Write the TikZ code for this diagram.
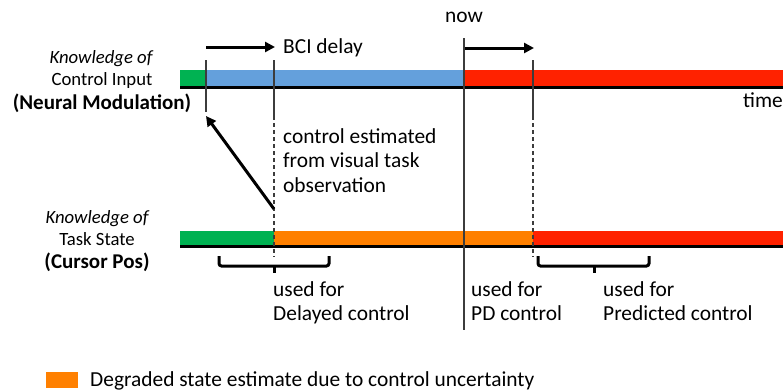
\documentclass[tikz,border=0pt]{standalone}
\usepackage{fontspec}
\setmainfont{Carlito}
\usepackage{tikz}
\usetikzlibrary{arrows.meta}
\usetikzlibrary{positioning}
\definecolor{knowgreen}{RGB}{0,178,82}
\definecolor{ctrlblue}{RGB}{100,160,220}
\definecolor{predred}{RGB}{255,34,0}
\definecolor{degorange}{RGB}{255,128,0}
\definecolor{tickgray}{RGB}{60,60,60}

\begin{document}
\begin{tikzpicture}[x=1pt,y=-1pt,
    txt/.style={font=\fontsize{21.4}{24.6}\selectfont,inner sep=0pt,align=left},
    side/.style={font=\fontsize{18.7}{22}\selectfont,inner sep=0pt,anchor=base},
    sidebold/.style={font=\fontsize{21}{22}\selectfont\bfseries,inner sep=0pt,anchor=base},
    tline/.style={tickgray,line width=1.2pt},
    arr/.style={-{Triangle[length=10pt,width=10pt]},line width=3pt},
    bracket/.style={line width=3pt,rounded corners=2.5pt}]
  \useasboundingbox (0,0) rectangle (783,391);
  % control input bar
  \fill[knowgreen] (180,70) rectangle (206,86);
  \fill[ctrlblue] (206,70) rectangle (464,86);
  \fill[predred] (464,70) rectangle (783,86);
  \draw[line width=3.2pt] (180,87.5) -- (783,87.5);
  % task state bar
  \fill[knowgreen] (180,231) rectangle (274,245);
  \fill[degorange] (274,231) rectangle (533,245);
  \fill[predred] (533,231) rectangle (783,245);
  \draw[line width=3.2pt] (180,246.5) -- (783,246.5);
  % markers
  \coordinate (obsT) at (206,60);
  \coordinate (obsB) at (206,112);
  \coordinate (bciT) at (274,60);
  \coordinate (bciM) at (274,116);
  \coordinate (bciB) at (274,257);
  \coordinate (nowT) at (464,38);
  \coordinate (nowB) at (464,330);
  \coordinate (preT) at (533,60);
  \coordinate (preM) at (533,116);
  \coordinate (preB) at (533,257);
  \draw[tline] (obsT) -- (obsB);
  \draw[tline] (bciT) -- (bciM);
  \draw[tline,dashed,dash pattern=on 4pt off 3pt] (bciM) -- (bciB);
  \draw[tline] (nowT) -- (nowB);
  \draw[tline] (preT) -- (preM);
  \draw[tline,dashed,dash pattern=on 4pt off 3pt] (preM) -- (preB);
  % arrows
  \coordinate (bciS) at (206,47);
  \coordinate (bciE) at (275,47);
  \coordinate (predS) at (465,48);
  \coordinate (predE) at (534,48);
  \coordinate (estS) at (274,209);
  \coordinate (estE) at (206,116);
  \draw[arr] (bciS) -- (bciE);
  \draw[arr] (predS) -- (predE);
  \draw[arr] (estS) -- (estE);
  % brackets
  \draw[bracket] (219,256) |- (329,266) -- (329,256);
  \draw[bracket] (274,266) -- (274,273);
  \draw[bracket] (538,256) |- (649,266) -- (649,256);
  \draw[bracket] (594,266) -- (594,273);
  % labels
  \node[txt,anchor=base west] (bci) at (283,53) {BCI delay};
  \node[txt,anchor=base] (now) at (464,22) {now};
  \node[txt,anchor=base east] (time) at (783,107) {time};
  \node[txt,anchor=north west] (est) at (283,128)
    {control estimated\\from visual task\\observation};
  \node[txt,anchor=north west] (dly) at (273,281) {used for\\Delayed control};
  \node[txt,anchor=north west] (pd) at (471,281) {used for\\PD control};
  \node[txt,anchor=north west] (prd) at (603,281) {used for\\Predicted control};
  \node[side] (ctrlK) at (101,63) {\itshape Knowledge of};
  \node[side] (ctrlI) at (102,85) {Control Input};
  \node[sidebold] (ctrlN) at (102,109) {(Neural Modulation)};
  \node[side] (taskK) at (97,223) {\itshape Knowledge of};
  \node[side] (taskS) at (97,245) {Task State};
  \node[sidebold] (taskC) at (97,268) {(Cursor Pos)};
  % legend
  \fill[degorange] (46,372) rectangle (78,388);
  \node[txt,anchor=base west] (leg) at (90,386)
    {Degraded state estimate due to control uncertainty};
\end{tikzpicture}
\end{document}
